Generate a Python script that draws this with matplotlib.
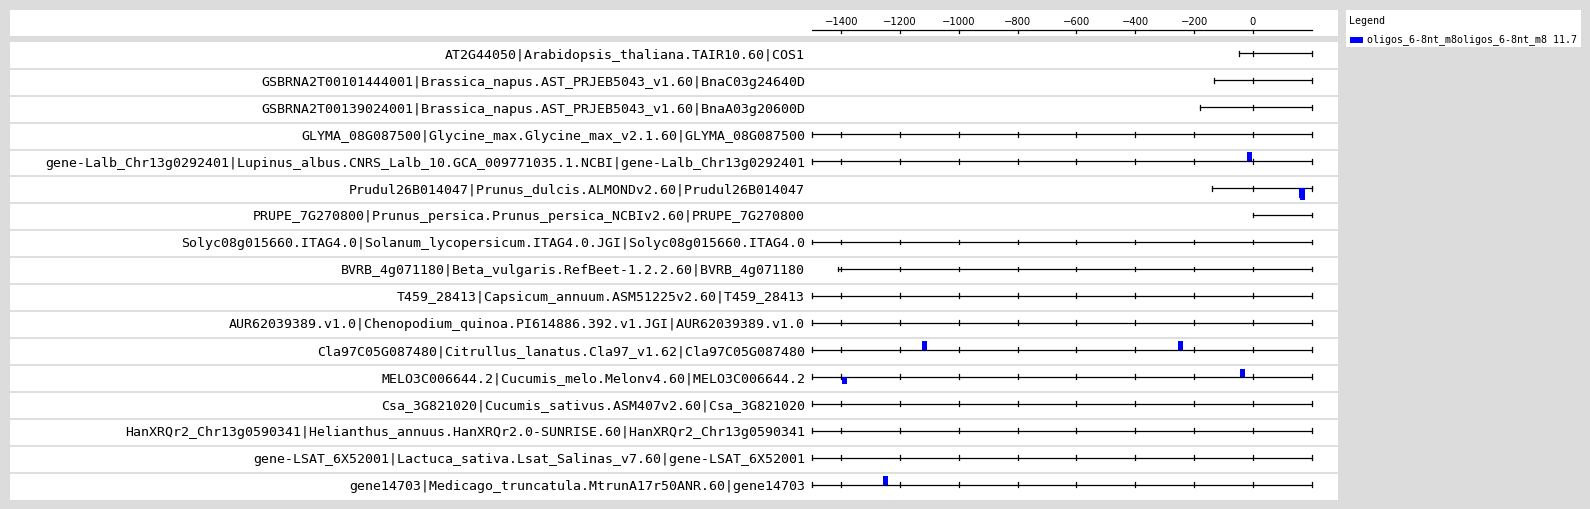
import matplotlib
matplotlib.use("Agg")
import matplotlib.pyplot as plt
from matplotlib.patches import Rectangle

# ---- data ----
labels = [
    "AT2G44050|Arabidopsis_thaliana.TAIR10.60|COS1",
    "GSBRNA2T00101444001|Brassica_napus.AST_PRJEB5043_v1.60|BnaC03g24640D",
    "GSBRNA2T00139024001|Brassica_napus.AST_PRJEB5043_v1.60|BnaA03g20600D",
    "GLYMA_08G087500|Glycine_max.Glycine_max_v2.1.60|GLYMA_08G087500",
    "gene-Lalb_Chr13g0292401|Lupinus_albus.CNRS_Lalb_10.GCA_009771035.1.NCBI|gene-Lalb_Chr13g0292401",
    "Prudul26B014047|Prunus_dulcis.ALMONDv2.60|Prudul26B014047",
    "PRUPE_7G270800|Prunus_persica.Prunus_persica_NCBIv2.60|PRUPE_7G270800",
    "Solyc08g015660.ITAG4.0|Solanum_lycopersicum.ITAG4.0.JGI|Solyc08g015660.ITAG4.0",
    "BVRB_4g071180|Beta_vulgaris.RefBeet-1.2.2.60|BVRB_4g071180",
    "T459_28413|Capsicum_annuum.ASM51225v2.60|T459_28413",
    "AUR62039389.v1.0|Chenopodium_quinoa.PI614886.392.v1.JGI|AUR62039389.v1.0",
    "Cla97C05G087480|Citrullus_lanatus.Cla97_v1.62|Cla97C05G087480",
    "MELO3C006644.2|Cucumis_melo.Melonv4.60|MELO3C006644.2",
    "Csa_3G821020|Cucumis_sativus.ASM407v2.60|Csa_3G821020",
    "HanXRQr2_Chr13g0590341|Helianthus_annuus.HanXRQr2.0-SUNRISE.60|HanXRQr2_Chr13g0590341",
    "gene-LSAT_6X52001|Lactuca_sativa.Lsat_Salinas_v7.60|gene-LSAT_6X52001",
    "gene14703|Medicago_truncatula.MtrunA17r50ANR.60|gene14703",
]
seq_start = [-47, -131, -179, -1500, -1500, -140, 0, -1500, -1413, -1500,
             -1500, -1500, -1500, -1500, -1500, -1500, -1500]
seq_end = [200] * 17

# oligo hits: row, start position, strand (+1 above / -1 below), height (row units)
hit_row = [4, 5, 5, 11, 11, 12, 12, 16]
hit_start = [-21, 157, 161, -1125, -253, -1398, -43, -1258]
hit_strand = [1, -1, -1, 1, 1, -1, 1, 1]
hit_height = [0.35, 0.36, 0.46, 0.32, 0.32, 0.26, 0.28, 0.32]
hit_len = 17

axis_ticks = [-1400, -1200, -1000, -800, -600, -400, -200, 0]
legend_title = "Legend"
legend_label = "oligos_6-8nt_m8oligos_6-8nt_m8 11.7"

# ---- layout (pixels) ----
W, H = 1590, 509
BG = "#dcdcdc"
SEP = "#d9d9d9"
BLUE = "#0000ff"
MONO = "DejaVu Sans Mono"

x_lo_px, x_hi_px = 812, 1311.6      # pixel positions of -1500 and 200
x_lo_val, x_hi_val = -1500, 200
panel_l, panel_r = 10, 1338
ppu = (x_hi_px - x_lo_px) / (x_hi_val - x_lo_val)
xlim = (x_lo_val - (x_lo_px - panel_l) / ppu, x_hi_val + (panel_r - x_hi_px) / ppu)


def add_px_axes(fig, x0, y0, x1, y1):
    ax = fig.add_axes([x0 / W, 1 - y1 / H, (x1 - x0) / W, (y1 - y0) / H])
    ax.set_facecolor("white")
    for s in ax.spines.values():
        s.set_visible(False)
    ax.set_xticks([])
    ax.set_yticks([])
    return ax


fig = plt.figure(figsize=(W / 100, H / 100), dpi=100, facecolor=BG)

# top scale panel
top = add_px_axes(fig, panel_l, 10, panel_r, 35.5)
top.set_xlim(*xlim)
top.set_ylim(25.5, 0)
top.plot([x_lo_val, x_hi_val], [20.4, 20.4], color="black", lw=0.9)
for t in axis_ticks:
    top.plot([t, t], [20.4, 23.4], color="black", lw=0.9)
    top.text(t, 12, str(t).replace("-", "\u2212"), ha="center", va="center",
             fontsize=7.2, family="DejaVu Sans")

# main panel
n = len(labels)
main = add_px_axes(fig, panel_l, 41.7, panel_r, 500)
main.set_xlim(*xlim)
main.set_ylim(n, 0)
for i in range(1, n):
    main.axhline(i, color=SEP, lw=1.2)

tick_h = 0.09
for i, lab in enumerate(labels):
    yc = i + 0.43
    s, e = seq_start[i], seq_end[i]
    main.plot([s, e], [yc, yc], color="black", lw=0.9)
    marks = {s, e}
    marks.update(v for v in range(-1400, 201, 200) if s <= v <= e)
    for m in marks:
        main.plot([m, m], [yc - tick_h, yc + tick_h], color="black", lw=0.9)
    main.text(x_lo_val - 7 / ppu, i + 0.5, lab, ha="right", va="center",
              fontsize=9.5, family=MONO)

for r, st, sd, h in zip(hit_row, hit_start, hit_strand, hit_height):
    yc = r + 0.43
    y0 = yc - h if sd > 0 else yc
    main.add_patch(Rectangle((st, y0), hit_len, h, color=BLUE, lw=0, zorder=3))

# legend panel
leg = add_px_axes(fig, 1346, 10, 1581, 47)
leg.set_xlim(0, 235)
leg.set_ylim(37, 0)
leg.text(3, 11.5, legend_title, ha="left", va="center", fontsize=7.2, family=MONO)
leg.add_patch(Rectangle((4, 26.7), 13, 6.6, color=BLUE, lw=0))
leg.text(21, 30, legend_label, ha="left", va="center", fontsize=7.2, family=MONO)

fig.savefig("out.png", dpi=100, facecolor=BG)
